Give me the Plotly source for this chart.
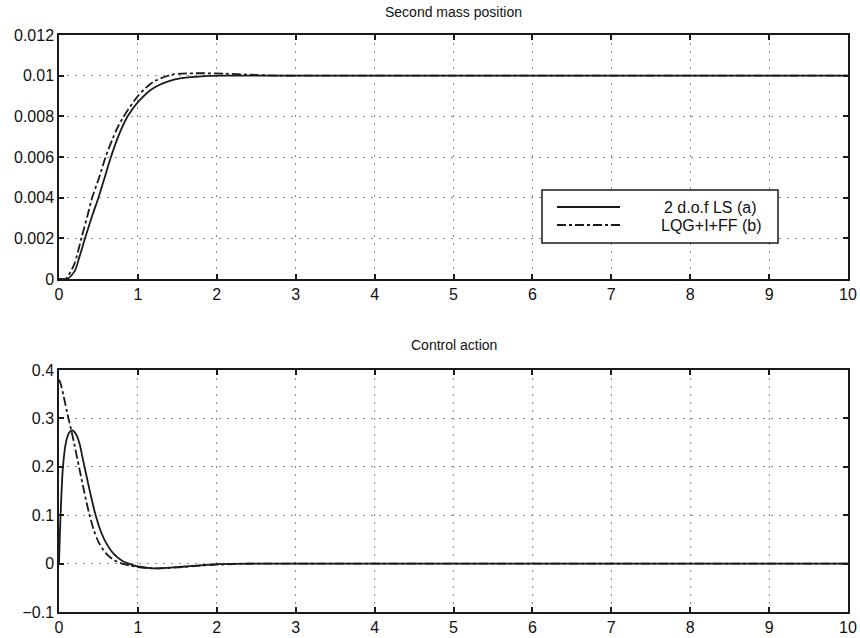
import plotly.graph_objects as go

# Second mass position (step response)
t_pos_a = [0, 0.10, 0.20, 0.26, 0.33, 0.42, 0.50, 0.58, 0.65, 0.75, 0.87, 1.0, 1.18, 1.385,
           1.57, 1.8, 2.1, 2.5, 3.0, 10.0]
pos_a = [0, 0, 0.0004, 0.0011, 0.0020, 0.0031, 0.0040, 0.0050, 0.0059, 0.0070, 0.0080, 0.0087,
         0.00935, 0.00972, 0.00989, 0.00997, 0.0100, 0.0100, 0.0100, 0.0100]
t_pos_b = [0, 0.08, 0.19, 0.29, 0.36, 0.42, 0.51, 0.59, 0.68, 0.755, 0.87, 1.0, 1.1, 1.22,
           1.43, 1.57, 1.8, 2.1, 2.4, 2.8, 3.2, 10.0]
pos_b = [0, 0, 0.0007, 0.0021, 0.0031, 0.0040, 0.0050, 0.0060, 0.0069, 0.00755, 0.0083, 0.0090,
         0.0094, 0.00975, 0.01005, 0.0101, 0.01012, 0.0101, 0.01005, 0.0100, 0.0100, 0.0100]

# Control action
t_u_a = [0, 0.02, 0.05, 0.09, 0.13, 0.17, 0.22, 0.26, 0.30, 0.35, 0.40, 0.456, 0.52, 0.59,
         0.70, 0.80, 0.90, 1.0, 1.2, 1.6, 2.0, 2.5, 3.0, 10.0]
u_a = [0, 0.10, 0.20, 0.252, 0.271, 0.275, 0.266, 0.248, 0.218, 0.18, 0.143, 0.105, 0.071,
       0.045, 0.019, 0.006, -0.001, -0.006, -0.010, -0.006, -0.001, 0, 0, 0]
t_u_b = [0, 0.02, 0.06, 0.106, 0.17, 0.26, 0.32, 0.38, 0.44, 0.50, 0.59, 0.68, 0.78, 0.90,
         1.0, 1.2, 1.5, 1.8, 2.2, 2.6, 3.0, 10.0]
u_b = [0.38, 0.372, 0.345, 0.31, 0.265, 0.195, 0.148, 0.105, 0.07, 0.045, 0.022, 0.009, 0.001,
       -0.004, -0.007, -0.010, -0.008, -0.004, -0.001, 0, 0, 0]

names = ["2 d.o.f LS (a)", "LQG+I+FF (b)"]
x_ticks = list(range(0, 11))
y1_ticks = [0, 0.002, 0.004, 0.006, 0.008, 0.01, 0.012]
y1_labels = ["0", "0.002", "0.004", "0.006", "0.008", "0.01", "0.012"]
y2_ticks = [-0.1, 0, 0.1, 0.2, 0.3, 0.4]
y2_labels = ["\u22120.1", "0", "0.1", "0.2", "0.3", "0.4"]

ink = "#1a1a1a"
font = "Liberation Sans, Arial, sans-serif"
line_w = 1.8

# plot-area geometry (pixels) used to place the hand-built legend box
W, H = 860, 638
L, R, T, B = 59, 12, 35, 26
pw, ph = W - L - R, H - T - B


def px(x):
    return (x - L) / pw


def py(y):
    return (H - B - y) / ph


fig = go.Figure()
fig.add_trace(go.Scatter(x=t_pos_a, y=pos_a, mode="lines", name=names[0], showlegend=False,
                         line=dict(color=ink, width=line_w, shape="spline", smoothing=0.8),
                         xaxis="x", yaxis="y"))
fig.add_trace(go.Scatter(x=t_pos_b, y=pos_b, mode="lines", name=names[1], showlegend=False,
                         line=dict(color=ink, width=line_w, dash="dashdot", shape="spline",
                                   smoothing=0.8),
                         xaxis="x", yaxis="y"))
fig.add_trace(go.Scatter(x=t_u_a, y=u_a, mode="lines", name=names[0], showlegend=False,
                         line=dict(color=ink, width=line_w, shape="spline", smoothing=0.8),
                         xaxis="x2", yaxis="y2"))
fig.add_trace(go.Scatter(x=t_u_b, y=u_b, mode="lines", name=names[1], showlegend=False,
                         line=dict(color=ink, width=line_w, dash="dashdot", shape="spline",
                                   smoothing=0.8),
                         xaxis="x2", yaxis="y2"))

axis_common = dict(showline=True, linecolor=ink, linewidth=1.5, mirror="ticks",
                   ticks="inside", ticklen=5, tickcolor=ink, tickwidth=1.5,
                   showgrid=True, gridcolor="#8c8c8c", griddash="2px,6px", gridwidth=1.3,
                   zeroline=False, automargin=False,
                   tickfont=dict(family=font, size=16, color="#111"))

# legend: framed box with line samples and labels
legend_shapes = [
    dict(type="rect", xref="paper", yref="paper", x0=px(542), x1=px(778), y0=py(243), y1=py(190),
         line=dict(color=ink, width=1.5), fillcolor="white", layer="above"),
    dict(type="line", xref="paper", yref="paper", x0=px(557), x1=px(620), y0=py(207), y1=py(207),
         line=dict(color=ink, width=line_w), layer="above"),
    dict(type="line", xref="paper", yref="paper", x0=px(557), x1=px(620), y0=py(225), y1=py(225),
         line=dict(color=ink, width=line_w, dash="dashdot"), layer="above"),
]
legend_labels = [
    dict(text=names[0], xref="paper", yref="paper", x=px(662), y=py(207), xanchor="left",
         yanchor="middle", showarrow=False, font=dict(family=font, size=16, color="#111")),
    dict(text=names[1], xref="paper", yref="paper", x=px(659), y=py(225), xanchor="left",
         yanchor="middle", showarrow=False, font=dict(family=font, size=16, color="#111")),
]

titles = [
    dict(text="Second mass position", xref="paper", yref="paper", x=0.5, y=py(12),
         xanchor="center", yanchor="middle", showarrow=False,
         font=dict(family=font, size=14, color="#111")),
    dict(text="Control action", xref="paper", yref="paper", x=0.5, y=py(345),
         xanchor="center", yanchor="middle", showarrow=False,
         font=dict(family=font, size=14, color="#111")),
]

fig.update_layout(
    width=W, height=H,
    margin=dict(l=L, r=R, t=T, b=B),
    paper_bgcolor="white", plot_bgcolor="white",
    showlegend=False,
    xaxis=dict(domain=[0, 1], range=[0, 10], tickvals=x_ticks, anchor="y", **axis_common),
    yaxis=dict(domain=[py(279), 1], range=[0, 0.012], tickvals=y1_ticks, ticktext=y1_labels,
               anchor="x", **axis_common),
    xaxis2=dict(domain=[0, 1], range=[0, 10], tickvals=x_ticks, anchor="y2", **axis_common),
    yaxis2=dict(domain=[0, py(370)], range=[-0.1, 0.4], tickvals=y2_ticks, ticktext=y2_labels,
                anchor="x2", **axis_common),
    shapes=legend_shapes,
    annotations=titles + legend_labels,
)

fig.write_html("out.html")
